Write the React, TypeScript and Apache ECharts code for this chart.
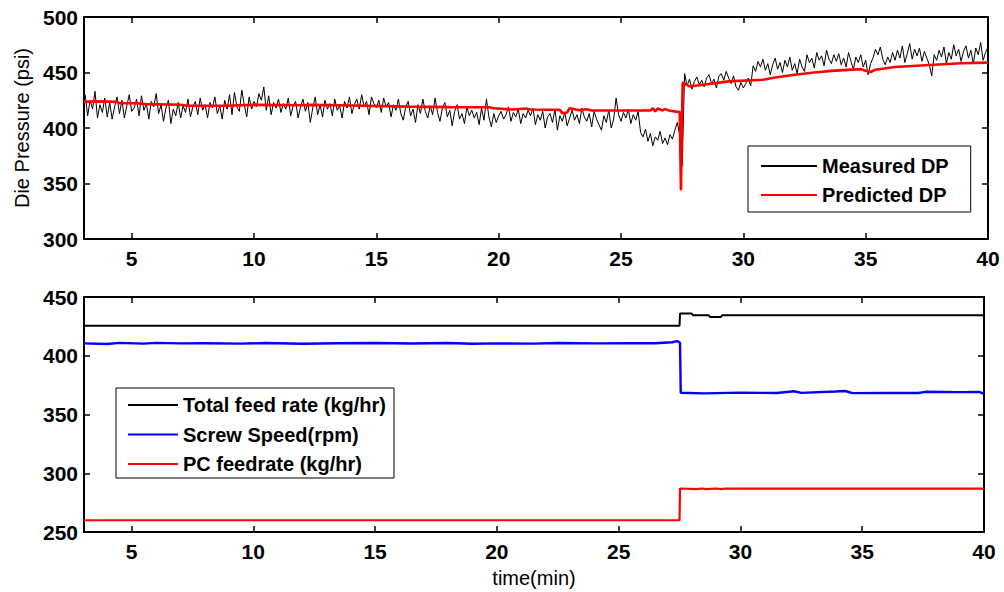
import React, { useEffect, useRef } from "react";
import * as echarts from "echarts";

// ---------- data ----------
const xTicks = [5, 10, 15, 20, 25, 30, 35, 40];

// Measured die pressure, sampled every 0.1 min starting at 3.1 min
const measuredStart = 3.1;
const measuredStep = 0.1;
const measuredDP = [
  430, 411, 425, 417, 433, 409, 421, 414, 427, 410,
  423, 408, 419, 428, 413, 425, 409, 420, 430, 415,
  418, 426, 411, 429, 416, 422, 408, 424, 419, 431,
  413, 421, 406, 418, 425, 404, 417, 411, 423, 409,
  420, 414, 426, 410, 419, 424, 412, 427, 416, 421,
  409, 423, 418, 428, 413, 420, 408, 425, 417, 430,
  412, 432, 419, 415, 434, 421, 410, 428, 417, 424,
  419, 431, 425, 437, 416, 429, 412, 423, 418, 426,
  414, 422, 417, 427, 411, 420, 424, 409, 419, 426,
  415, 423, 405, 418, 428, 412, 421, 410, 425, 417,
  422, 411, 426, 416, 420, 409, 424, 418, 428, 413,
  421, 426, 417, 430, 419, 424, 412, 428, 422, 418,
  425, 414, 427, 419, 423, 410, 421, 416, 426, 413,
  407, 419, 424, 411, 417, 405, 421, 413, 426, 415,
  409, 420, 412, 427, 414, 406, 418, 423, 410, 416,
  402, 415, 421, 408, 413, 404, 419, 411, 416, 409,
  414, 403, 418, 407, 426, 410, 401, 413, 405, 411,
  415, 408, 412, 419, 406, 414, 410, 417, 404, 413,
  409, 416, 411, 418, 403, 412, 407, 415, 400, 410,
  413, 405, 417, 398, 411, 406, 414, 402, 409, 416,
  407, 412, 404, 418, 410, 406, 413, 401, 415, 408,
  403, 398, 411, 405, 416, 400, 408, 427, 412, 406,
  414, 409, 417, 404, 412, 407, 415, 396, 392, 399,
  388, 395, 384, 392, 389, 397, 386, 391, 385, 394,
  390, 398, 405, 394, 366, 449, 438, 444, 435, 442,
  446, 439, 443, 437, 445, 448, 440, 444, 436, 447,
  449, 443, 451, 445, 440, 447, 437, 434, 441, 436,
  440, 445, 438, 456, 451, 460, 455, 462, 452, 458,
  448, 457, 463, 453, 459, 450, 461, 455, 464, 452,
  458, 449, 462, 455, 451, 466, 459, 463, 454, 468,
  461, 465, 456, 470, 462, 458, 466, 460, 467, 457,
  463, 455, 468, 460, 453, 464, 459, 466, 455, 461,
  448, 458, 463, 471, 466, 473, 462, 457, 464, 459,
  468, 461, 470, 463, 474, 459, 467, 476, 462, 471,
  465, 472, 460, 469, 463, 457, 447, 466, 461, 470,
  464, 473, 458, 468, 462, 475, 465, 471, 460, 469,
  474, 463, 470, 458, 472, 466, 477, 461, 468, 473,
];

const predictedT = [
  3.05, 3.6, 4.4, 4.5, 5.2, 5.6, 7.0, 7.2, 8.8, 10.0,
  12.0, 12.3, 14.0, 16.3, 18.0, 19.6, 19.8, 20.6, 21.1, 21.3,
  22.0, 22.5, 22.6, 22.8, 22.9, 23.3, 23.6, 23.8, 25.0, 26.2,
  26.3, 26.4, 26.5, 26.7, 26.8, 27.0, 27.4, 27.45, 27.52, 27.6,
  27.8, 28.2, 29.4, 30.8, 31.3, 32.1, 32.9, 33.6, 34.8, 35.0,
  35.2, 35.4, 36.2, 37.6, 38.9, 40.0,
];
const predictedDP = [
  423.5, 424, 423.5, 422.3, 422.3, 421.5, 421, 420.2, 420, 420.8,
  420.5, 420.8, 420.3, 419.3, 418.8, 418.7, 417.8, 416.6, 417.5, 416.6,
  416.5, 416.3, 413.4, 414, 417.8, 416, 416.9, 415.7, 415.7, 415.8,
  417.8, 415, 417.5, 415.8, 417, 415.5, 414.3, 344, 441, 440,
  437.5, 438.5, 442, 443.4, 445.5, 447.9, 450, 451.5, 453, 451.5,
  450.5, 452.5, 455, 456.8, 458.3, 458.9,
];

const totalFeedT = [3.05, 27.5, 27.52, 28.0, 28.05, 28.7, 28.75, 29.2, 29.25, 40.0];
const totalFeed = [425.5, 425.5, 436, 436, 434.5, 434.5, 433, 433, 434.5, 434.5];

const screwT = [
  3.05, 4.0, 4.5, 5.5, 6.0, 7.0, 8.0, 9.5, 10.5, 12.0,
  13.5, 15.0, 16.5, 18.0, 19.0, 20.0, 21.5, 22.5, 24.0, 25.5,
  26.5, 27.2, 27.4, 27.52, 27.55, 28.5, 30.0, 31.5, 32.2, 32.5,
  33.9, 34.3, 34.6, 36.0, 37.3, 37.6, 39.0, 39.8, 40.0,
];
const screwSpeed = [
  410.5, 410, 411, 410.3, 411, 410.5, 410.7, 410.3, 410.8, 410.2,
  410.6, 410.9, 410.4, 410.8, 410.2, 410.5, 410.3, 410.9, 410.5, 410.7,
  410.6, 411.5, 412.5, 411, 368.5, 368, 368.6, 368.3, 369.8, 368.4,
  369.6, 370, 368.2, 368.4, 368.3, 369.3, 369, 369.2, 367.6,
];

const pcFeedT = [3.05, 27.5, 27.52, 28.2, 28.4, 28.6, 29.0, 29.2, 29.4, 29.6, 40.0];
const pcFeed = [260, 260, 287, 286.5, 287, 286.5, 287, 286.5, 287, 287, 287];

const seriesNames = {
  measured: "Measured DP",
  predicted: "Predicted DP",
  total: "Total feed rate (kg/hr)",
  screw: "Screw Speed(rpm)",
  pc: "PC feedrate (kg/hr)",
};

// ---------- helpers ----------
const zip = (t: number[], v: number[]) => v.map((y, i) => [t[i], y]);
const measuredPairs = measuredDP.map((y, i) => [
  Math.round((measuredStart + i * measuredStep) * 100) / 100,
  y,
]);

const FONT = "'Liberation Sans', Arial, Helvetica, sans-serif";
const tickLabel = {
  fontFamily: FONT,
  fontWeight: "bold" as const,
  fontSize: 21,
  color: "#000",
};

function xAxes(grid: number) {
  const common = {
    gridIndex: grid,
    type: "value" as const,
    min: 3.05,
    max: 40,
    splitLine: { show: false },
    axisLine: { onZero: false, lineStyle: { color: "#000", width: 2 } },
    axisTick: {
      inside: true,
      length: 6,
      customValues: xTicks,
      lineStyle: { color: "#000", width: 1.5 },
    },
  };
  return [
    {
      ...common,
      position: "bottom",
      axisLabel: { ...tickLabel, margin: 9, customValues: xTicks },
    },
    { ...common, position: "top", axisLabel: { show: false } },
  ];
}

function yAxes(grid: number, min: number, max: number, name?: string) {
  const common = {
    gridIndex: grid,
    type: "value" as const,
    min,
    max,
    interval: 50,
    splitLine: { show: false },
    axisLine: { onZero: false, lineStyle: { color: "#000", width: 2 } },
    axisTick: { inside: true, length: 6, lineStyle: { color: "#000", width: 1.5 } },
  };
  return [
    {
      ...common,
      position: "left",
      axisLabel: { ...tickLabel, margin: 6 },
      name: name || "",
      nameLocation: "middle",
      nameGap: 52,
      nameTextStyle: { fontFamily: FONT, fontSize: 20, color: "#000" },
    },
    { ...common, position: "right", axisLabel: { show: false } },
  ];
}

export default function App() {
  const ref = useRef<HTMLDivElement>(null);
  useEffect(() => {
    if (!ref.current) return;
    const chart = echarts.init(ref.current, undefined, { renderer: "svg" });
    const legendText = {
      fontFamily: FONT,
      fontWeight: "bold" as const,
      fontSize: 20,
      color: "#000",
    };
    const hiddenSymbol = { opacity: 0, color: "transparent", borderColor: "transparent" };
    chart.setOption({
      animation: false,
      backgroundColor: "#fff",
      grid: [
        { left: 84, top: 17, width: 904, height: 222, containLabel: false },
        { left: 84, top: 297, width: 900, height: 235, containLabel: false },
      ],
      xAxis: [
        ...xAxes(0),
        ...xAxes(1).map((a, i) =>
          i === 0
            ? {
                ...a,
                name: "time(min)",
                nameLocation: "middle",
                nameGap: 36,
                nameTextStyle: { fontFamily: FONT, fontSize: 20, color: "#000" },
              }
            : a
        ),
      ],
      yAxis: [...yAxes(0, 300, 500, "Die Pressure (psi)"), ...yAxes(1, 250, 450)],
      legend: [
        {
          data: [seriesNames.measured, seriesNames.predicted],
          orient: "vertical",
          left: 748,
          top: 146,
          itemWidth: 56,
          itemHeight: 14,
          itemGap: 9,
          padding: [10, 22, 7, 12],
          borderColor: "#000",
          borderWidth: 1,
          backgroundColor: "#fff",
          selectedMode: false,
          itemStyle: hiddenSymbol,
          textStyle: legendText,
        },
        {
          data: [seriesNames.total, seriesNames.screw, seriesNames.pc],
          orient: "vertical",
          left: 116,
          top: 388,
          itemWidth: 50,
          itemHeight: 14,
          itemGap: 9.5,
          padding: [7, 8, 4, 11],
          borderColor: "#000",
          borderWidth: 1,
          backgroundColor: "#fff",
          selectedMode: false,
          itemStyle: hiddenSymbol,
          textStyle: legendText,
        },
      ],
      series: [
        {
          name: seriesNames.measured,
          type: "line",
          xAxisIndex: 0,
          yAxisIndex: 0,
          data: measuredPairs,
          symbol: "none",
          lineStyle: { color: "#000", width: 1 },
          itemStyle: { color: "#000" },
          z: 2,
        },
        {
          name: seriesNames.predicted,
          type: "line",
          xAxisIndex: 0,
          yAxisIndex: 0,
          data: zip(predictedT, predictedDP),
          symbol: "none",
          lineStyle: { color: "#ff0000", width: 2.6 },
          itemStyle: { color: "#ff0000" },
          z: 3,
        },
        {
          name: seriesNames.total,
          type: "line",
          xAxisIndex: 2,
          yAxisIndex: 2,
          data: zip(totalFeedT, totalFeed),
          symbol: "none",
          lineStyle: { color: "#000", width: 2 },
          itemStyle: { color: "#000" },
        },
        {
          name: seriesNames.screw,
          type: "line",
          xAxisIndex: 2,
          yAxisIndex: 2,
          data: zip(screwT, screwSpeed),
          symbol: "none",
          lineStyle: { color: "#0000ff", width: 2.4 },
          itemStyle: { color: "#0000ff" },
        },
        {
          name: seriesNames.pc,
          type: "line",
          xAxisIndex: 2,
          yAxisIndex: 2,
          data: zip(pcFeedT, pcFeed),
          symbol: "none",
          lineStyle: { color: "#ff0000", width: 2.2 },
          itemStyle: { color: "#ff0000" },
        },
      ],
    });
    return () => chart.dispose();
  }, []);
  return (
    <div
      ref={ref}
      style={{ position: "absolute", left: 0, top: 0, width: 1004, height: 592, background: "#fff" }}
    />
  );
}
